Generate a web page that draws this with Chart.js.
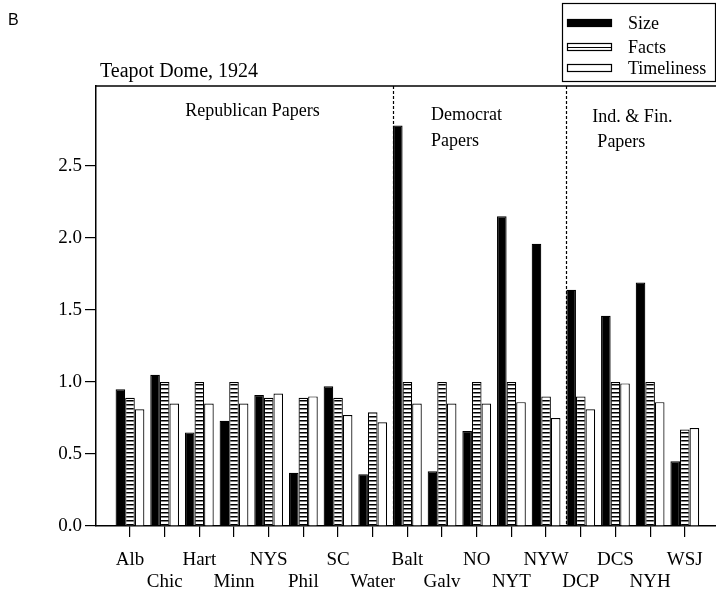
<!DOCTYPE html>
<html>
<head>
<meta charset="utf-8">
<script src="https://cdn.jsdelivr.net/npm/chart.js@4.4.1/dist/chart.umd.min.js"></script>
<style>
  html, body { margin: 0; padding: 0; background: #fff; }
  #wrap { position: relative; width: 716px; height: 592px; }
</style>
</head>
<body>
<div id="wrap"><canvas id="teapot" width="716" height="592"></canvas></div>
<script>
// Teapot Dome, 1924 — coverage scores per newspaper

// ─── Data ─────────────────────────────────────────────────────────
const papers      = ['Alb', 'Chic', 'Hart', 'Minn', 'NYS', 'Phil', 'SC', 'Water',
                     'Balt', 'Galv', 'NO', 'NYT', 'NYW',
                     'DCP', 'DCS', 'NYH', 'WSJ'];
const sizeVals    = [0.95, 1.05, 0.65, 0.73, 0.91, 0.37, 0.97, 0.36,
                     2.78, 0.38, 0.66, 2.15, 1.96,
                     1.64, 1.46, 1.69, 0.45];
const factsVals   = [0.89, 1.00, 1.00, 1.00, 0.89, 0.89, 0.89, 0.79,
                     1.00, 1.00, 1.00, 1.00, 0.90,
                     0.90, 1.00, 1.00, 0.67];
const timeVals    = [0.81, 0.85, 0.85, 0.85, 0.92, 0.90, 0.77, 0.72,
                     0.85, 0.85, 0.85, 0.86, 0.75,
                     0.81, 0.99, 0.86, 0.68];
const seriesNames = ['Size', 'Facts', 'Timeliness'];
const yTicks      = [0, 0.5, 1.0, 1.5, 2.0, 2.5];
const groupStarts = [0, 8, 13];
const groupNames  = [['Republican Papers'], ['Democrat', 'Papers'], ['Ind. & Fin.', 'Papers']];
const chartTitle  = 'Teapot Dome, 1924';
const panelLetter = 'B';

const SERIF = "'Liberation Serif', 'Times New Roman', serif";
const SANS  = "'Liberation Sans', Arial, sans-serif";

const canvas = document.getElementById('teapot');
const ctx    = canvas.getContext('2d');

// Horizontal stripe fill for "Facts"
function stripePattern() {
    const p = document.createElement('canvas');
    p.width = 4; p.height = 4;
    const g = p.getContext('2d');
    g.fillStyle = '#fff'; g.fillRect(0, 0, 4, 4);
    g.fillStyle = '#000'; g.fillRect(0, 0, 4, 1.5);
    return ctx.createPattern(p, 'repeat');
}
const stripes = stripePattern();
const fills   = ['#000', stripes, '#fff'];

const toPoints = (arr) => arr.map((v, i) => ({ x: i, y: v }));

// ─── Extra drawing: frame top, dividers, labels, legend ──────────
const decor = {
    id: 'decor',
    beforeDatasetsDraw(chart) {
        const { ctx: c, chartArea: a } = chart;
        const meta = chart.getDatasetMeta(0);
        c.save();
        c.strokeStyle = '#000';
        c.lineWidth = 1.2;
        c.setLineDash([3, 2]);
        groupStarts.slice(1).forEach((s) => {
            const bar = meta.data[s];
            const x = Math.round(bar.x - bar.width / 2) + 0.5;
            c.beginPath();
            c.moveTo(x, a.top);
            c.lineTo(x, a.bottom);
            c.stroke();
        });
        c.restore();
    },
    afterDraw(chart) {
        const { ctx: c, chartArea: a } = chart;
        const meta = chart.getDatasetMeta(0);
        const edge = (s) => { const b = meta.data[s]; return b.x - b.width / 2; };
        const b1 = edge(groupStarts[1]);
        const b2 = edge(groupStarts[2]);

        c.save();
        c.fillStyle = '#000';
        c.strokeStyle = '#000';

        // top frame line
        c.lineWidth = 1.5;
        c.beginPath();
        c.moveTo(a.left, a.top);
        c.lineTo(a.right, a.top);
        c.stroke();

        // panel letter + title
        c.font = '16px ' + SANS;
        c.textBaseline = 'alphabetic';
        c.textAlign = 'left';
        c.fillText(panelLetter, 8, 25);
        c.font = '20px ' + SERIF;
        c.fillText(chartTitle, a.left + 4, a.top - 9);

        // group labels
        c.font = '18px ' + SERIF;
        c.textBaseline = 'middle';
        c.textAlign = 'center';
        c.fillText(groupNames[0][0], (a.left + b1) / 2 + 8, a.top + 25);
        c.textAlign = 'left';
        c.fillText(groupNames[1][0], b1 + 38, a.top + 29);
        c.fillText(groupNames[1][1], b1 + 38, a.top + 55);
        c.fillText(groupNames[2][0], b2 + 26, a.top + 31);
        c.fillText(groupNames[2][1], b2 + 31, a.top + 56);

        // legend box
        c.lineWidth = 1.2;
        c.strokeRect(562.5, 3.5, 153, 78);
        const rows = [23, 47, 68];
        c.font = '18px ' + SERIF;
        seriesNames.forEach((name, i) => {
            const y = rows[i];
            c.fillStyle = i === 0 ? '#000' : '#fff';
            c.fillRect(567, y - 4, 45, 8);
            c.strokeRect(567.5, y - 3.5, 44, 7);
            if (i === 1) {
                c.beginPath();
                c.moveTo(567, y + 0.5);
                c.lineTo(612, y + 0.5);
                c.stroke();
            }
            c.fillStyle = '#000';
            c.fillText(name, 628, y + 1);
        });
        c.restore();
    }
};

new Chart(canvas, {
    type: 'bar',
    data: {
        datasets: [sizeVals, factsVals, timeVals].map((vals, i) => ({
            label: seriesNames[i],
            data: toPoints(vals),
            backgroundColor: fills[i],
            borderColor: '#000',
            borderWidth: 1.2,
            categoryPercentage: 0.83,
            barPercentage: 1.0
        }))
    },
    options: {
        responsive: false,
        animation: false,
        devicePixelRatio: 1,
        layout: { padding: { top: 86, right: 0, bottom: 0, left: 0 } },
        plugins: {
            legend: { display: false },
            tooltip: { enabled: false }
        },
        scales: {
            x: {
                type: 'linear',
                offset: false,
                min: -0.98,
                max: 16.9,
                afterBuildTicks: (s) => { s.ticks = papers.map((_, i) => ({ value: i })); },
                afterFit: (s) => { s.height = 66; },
                ticks: {
                    autoSkip: false,
                    maxRotation: 0,
                    color: '#000',
                    padding: 12,
                    font: { family: SERIF, size: 19, lineHeight: 1.15 },
                    callback: (v) => {
                        const i = Math.round(v);
                        return i % 2 ? ['', papers[i]] : papers[i];
                    }
                },
                grid: { offset: false, drawOnChartArea: false, drawTicks: true, tickLength: 11, color: '#000', lineWidth: 1.2 },
                border: { display: true, color: '#000', width: 1.5 }
            },
            y: {
                min: 0,
                max: 3.055,
                afterBuildTicks: (s) => { s.ticks = yTicks.map((v) => ({ value: v })); },
                afterFit: (s) => { s.width = 96; },
                ticks: {
                    color: '#000',
                    padding: 3,
                    font: { family: SERIF, size: 19 },
                    callback: (v) => Number(v).toFixed(1)
                },
                grid: { drawOnChartArea: false, drawTicks: true, tickLength: 11, color: '#000', lineWidth: 1.2 },
                border: { display: true, color: '#000', width: 1.5 }
            }
        }
    },
    plugins: [decor]
});
</script>
</body>
</html>
